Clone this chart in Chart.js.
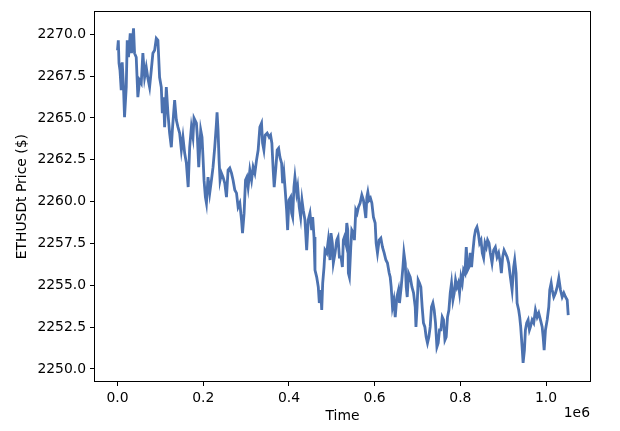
<!DOCTYPE html>
<html>
<head>
<meta charset="utf-8">
<script src="https://cdn.jsdelivr.net/npm/chart.js@4.4.1/dist/chart.umd.min.js"></script>
<style>
  html, body { margin: 0; padding: 0; background: #fff; }
  #priceChart { display: block; }
</style>
</head>
<body>
<canvas id="priceChart" width="620" height="431"></canvas>
<script>
const times = [
  0, 1900, 3500, 5800, 8700, 11000, 14000, 16400, 20400, 22700,
  25700, 29700, 32700, 37400, 39800, 43700, 47500, 51500, 55400, 59200,
  63200, 67100, 70900, 74900, 78800, 82600, 86600, 90500, 94300, 98200,
  102200, 104600, 107600, 109900, 113900, 117700, 121600, 125600, 128000, 133300,
  137300, 141100, 145000, 149000, 152700, 156700, 160700, 164900, 168400, 172400,
  176100, 178500, 184100, 186400, 189500, 194200, 197200, 199500, 201900, 205100,
  207500, 211200, 215200, 219200, 222900, 226900, 230900, 232300, 234600, 237000,
  239300, 242600, 246300, 250300, 254300, 258000, 262000, 266000, 269700, 273700,
  277700, 281400, 285400, 289400, 291700, 295400, 298700, 301800, 304800, 308800,
  312800, 316500, 320500, 324400, 328200, 332200, 336100, 338500, 341500, 344600,
  349200, 353900, 357200, 360200, 363300, 365600, 369600, 372600, 375900, 379000,
  382900, 385300, 388300, 391300, 394600, 397000, 400000, 404000, 406300, 408700,
  411700, 414000, 418000, 420400, 424100, 427400, 430400, 433500, 437400, 441400,
  445100, 449100, 453100, 455400, 458500, 460800, 464800, 468500, 470900, 474200,
  476500, 478800, 481900, 484200, 488200, 491900, 495900, 498200, 501300, 503600,
  507600, 511600, 514600, 517700, 521600, 524700, 527000, 529400, 532600, 535000,
  537300, 538700, 541100, 544300, 546700, 550400, 552800, 556000, 559100, 562100,
  566100, 570100, 573800, 576100, 579400, 581800, 584100, 587100, 590200, 593500,
  597200, 601200, 603500, 606600, 610500, 614500, 618300, 622200, 626200, 629900,
  633900, 636300, 638600, 641600, 644900, 648000, 651900, 655700, 658000, 662000,
  666000, 668300, 671400, 673700, 676000, 679100, 683000, 687000, 690800, 694700,
  696400, 699000, 701500, 704600, 707800, 710900, 713900, 717200, 720200, 723300,
  726500, 729600, 732600, 735900, 738900, 742000, 745300, 748300, 751300, 754600,
  757700, 760700, 764000, 767000, 770000, 773300, 776400, 779400, 782700, 785700,
  788800, 792000, 795100, 798100, 801400, 804400, 807500, 810700, 813800, 816800,
  820100, 823100, 826200, 829500, 832500, 835500, 838800, 841900, 844900, 848200,
  851200, 854300, 857500, 860600, 863600, 866900, 869900, 873900, 877600, 881600,
  885600, 889300, 893300, 895700, 898700, 902000, 905000, 909000, 912700, 916700,
  920700, 924400, 926800, 930000, 932400, 936100, 938500, 940800, 944100, 946400,
  949500, 951800, 954800, 958100, 961200, 963500, 967500, 971200, 975200, 979200,
  982900, 986900, 990900, 993200, 995500, 998600, 1002600, 1006300, 1008600, 1011900,
  1014300, 1018000, 1022000, 1026000, 1029700, 1033700, 1037600, 1041400, 1045400, 1049300,
  1051700
];

const prices = [
  2269.04, 2269.64, 2268.27, 2267.85, 2266.66, 2268.33, 2266.84, 2265.05, 2266.84, 2269.64,
  2268.63, 2270.06, 2268.87, 2270.36, 2268.87, 2268.63, 2266.24, 2267.25, 2267.07, 2268.87,
  2267.43, 2268.03, 2267.37, 2266.84, 2267.85, 2268.87, 2269.04, 2269.76, 2269.64, 2267.43,
  2266.84, 2265.28, 2266.24, 2264.45, 2266.84, 2265.28, 2264.09, 2263.25, 2264.27, 2266.06,
  2264.87, 2264.45, 2264.09, 2263.08, 2263.85, 2262.90, 2262.30, 2260.87, 2263.25, 2264.45,
  2263.85, 2264.99, 2264.69, 2263.85, 2262.06, 2264.27, 2263.85, 2262.66, 2261.28, 2260.27,
  2259.91, 2261.46, 2260.51, 2261.28, 2262.06, 2263.25, 2264.69, 2265.34, 2264.27, 2262.48,
  2261.28, 2261.70, 2261.46, 2261.10, 2260.27, 2261.88, 2262.00, 2261.70, 2261.28, 2260.69,
  2260.51, 2259.67, 2259.91, 2258.90, 2258.12, 2259.31, 2261.28, 2261.46, 2260.87, 2261.88,
  2261.28, 2262.06, 2261.70, 2262.48, 2263.08, 2264.45, 2264.69, 2263.49, 2263.08, 2263.97,
  2264.09, 2263.85, 2263.97, 2263.49, 2261.88, 2260.87, 2262.06, 2263.08, 2263.19, 2262.66,
  2262.30, 2261.10, 2261.70, 2260.69, 2259.49, 2258.30, 2260.09, 2260.27, 2259.31, 2259.07,
  2260.87, 2261.46, 2260.51, 2260.87, 2259.67, 2259.07, 2260.09, 2259.49, 2258.90, 2257.10,
  2258.90, 2259.31, 2258.30, 2259.07, 2257.88, 2255.91, 2255.49, 2254.90, 2253.94, 2254.72,
  2253.52, 2255.13, 2256.09, 2257.10, 2256.93, 2257.70, 2256.51, 2258.12, 2257.52, 2256.33,
  2256.93, 2257.70, 2257.88, 2256.69, 2256.69, 2256.09, 2257.70, 2257.88, 2257.52, 2258.72,
  2258.30, 2255.73, 2255.49, 2257.28, 2258.30, 2258.12, 2257.70, 2259.49, 2259.31, 2259.67,
  2259.91, 2260.39, 2260.09, 2259.67, 2259.02, 2260.27, 2260.57, 2260.09, 2260.21, 2259.91,
  2259.07, 2258.72, 2257.52, 2256.93, 2257.70, 2257.82, 2257.28, 2256.93, 2256.51, 2256.33,
  2255.73, 2255.49, 2254.90, 2253.70, 2254.12, 2253.10, 2254.30, 2254.72, 2253.94, 2254.90,
  2256.09, 2256.93, 2256.33, 2254.90, 2254.30, 2255.73, 2255.49, 2254.90, 2254.54, 2253.70,
  2252.51, 2253.70, 2255.31, 2255.13, 2254.90, 2253.70, 2252.75, 2252.51, 2251.91, 2251.55,
  2251.91, 2252.51, 2253.70, 2253.94, 2253.52, 2252.75, 2251.31, 2251.55, 2252.33, 2252.33,
  2253.10, 2252.93, 2251.73, 2251.91, 2253.10, 2253.52, 2254.54, 2255.13, 2254.12, 2254.54,
  2255.31, 2254.90, 2255.13, 2254.54, 2255.49, 2255.13, 2255.91, 2255.73, 2257.28, 2255.91,
  2256.09, 2256.93, 2256.09, 2257.10, 2257.88, 2258.30, 2258.48, 2258.12, 2257.52, 2257.70,
  2256.93, 2256.63, 2257.52, 2257.28, 2257.70, 2257.52, 2256.93, 2256.33, 2257.10, 2257.28,
  2256.69, 2256.93, 2256.33, 2255.73, 2256.69, 2257.10, 2256.93, 2256.69, 2256.33, 2255.49,
  2254.72, 2256.09, 2256.51, 2255.73, 2253.94, 2253.52, 2253.10, 2252.51, 2251.31, 2250.36,
  2251.13, 2252.33, 2252.75, 2252.93, 2252.33, 2252.51, 2252.93, 2252.75, 2253.52, 2253.10,
  2253.34, 2252.93, 2252.51, 2251.91, 2251.13, 2252.33, 2252.93, 2253.70, 2254.72, 2255.13,
  2254.72, 2254.30, 2254.54, 2254.90, 2255.43, 2254.72, 2254.30, 2254.54, 2254.30, 2254.12,
  2253.22
];

const xTicks = [0, 200000, 400000, 600000, 800000, 1000000];
const yTicks = [2250, 2252.5, 2255, 2257.5, 2260, 2262.5, 2265, 2267.5, 2270];
const xOffsetText = "1e6";

Chart.defaults.font.family = "'DejaVu Sans', sans-serif";
Chart.defaults.font.size = 13.9;
Chart.defaults.color = "#000";

// matplotlib style box round the plot + the x offset label
const framePlugin = {
  id: "frame",
  afterDraw(chart) {
    const { ctx, chartArea } = chart;
    ctx.save();
    ctx.strokeStyle = "#000";
    ctx.lineWidth = 1;
    ctx.strokeRect(
      Math.round(chartArea.left) - 0.5,
      Math.round(chartArea.top) - 0.5,
      Math.round(chartArea.right - chartArea.left) + 1,
      Math.round(chartArea.bottom - chartArea.top) + 1
    );
    ctx.font = "13.9px 'DejaVu Sans'";
    ctx.fillStyle = "#000";
    ctx.textAlign = "right";
    ctx.textBaseline = "middle";
    ctx.fillText(xOffsetText, chartArea.right, 413);
    ctx.restore();
  },
};

function renderChart() {
  const ctx = document.getElementById("priceChart").getContext("2d");
  const points = times.map((t, i) => ({ x: t, y: prices[i] }));

  new Chart(ctx, {
    type: "line",
    data: {
      datasets: [
        {
          label: "ETHUSDt",
          data: points,
          borderColor: "#4c72b0",
          borderWidth: 2.8, // the real series is dense noise, so it reads thicker
          pointRadius: 0,
          tension: 0,
          fill: false,
        },
      ],
    },
    options: {
      responsive: false,
      animation: false,
      events: [],
      layout: { padding: { left: 0, top: 12, right: 30, bottom: 0 } },
      plugins: {
        legend: { display: false },
        tooltip: { enabled: false },
      },
      scales: {
        x: {
          type: "linear",
          min: -52500,
          max: 1102500,
          afterBuildTicks: (scale) => {
            scale.ticks = xTicks.map((v) => ({ value: v }));
          },
          afterFit: (scale) => {
            scale.height = 50;
          },
          border: { display: false },
          grid: {
            drawOnChartArea: false,
            drawTicks: true,
            tickLength: 5,
            tickWidth: 1,
            tickColor: "#000",
          },
          ticks: {
            padding: 4,
            maxRotation: 0,
            callback: (v) => (v / 1e6).toFixed(1),
          },
          title: {
            display: true,
            text: "Time",
            padding: { top: 0, bottom: 6.7 },
          },
        },
        y: {
          min: 2249.28,
          max: 2271.31,
          afterBuildTicks: (scale) => {
            scale.ticks = yTicks.map((v) => ({ value: v }));
          },
          afterFit: (scale) => {
            scale.width = 95;
          },
          border: { display: false },
          grid: {
            drawOnChartArea: false,
            drawTicks: true,
            tickLength: 5,
            tickWidth: 1,
            tickColor: "#000",
          },
          ticks: {
            padding: 4,
            callback: (v) => v.toFixed(1),
          },
          title: {
            display: true,
            text: "ETHUSDt Price ($)",
            padding: { top: 13.7, bottom: 0 },
          },
        },
      },
    },
    plugins: [framePlugin],
  });
}

document.addEventListener("DOMContentLoaded", () => {
  renderChart();
});
</script>
</body>
</html>
